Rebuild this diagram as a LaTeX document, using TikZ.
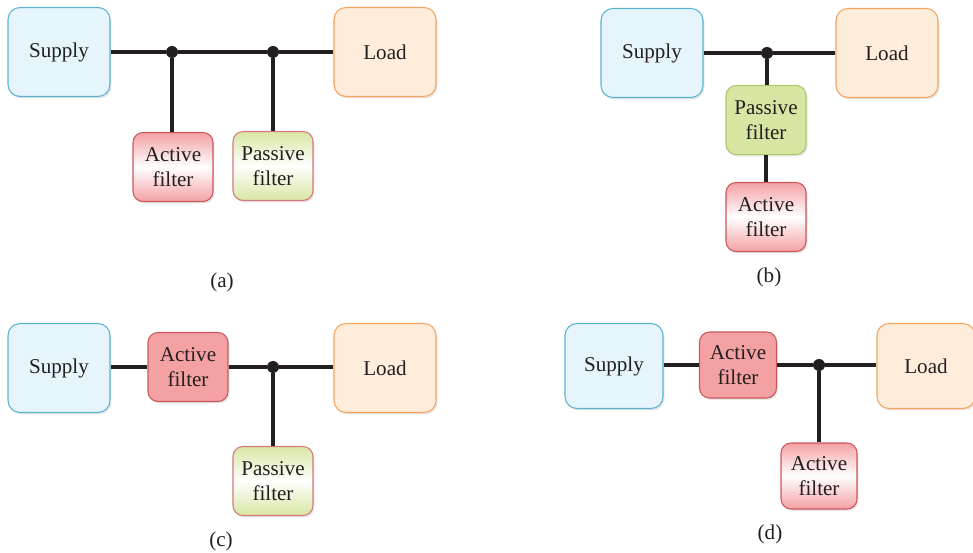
\documentclass[tikz,border=0pt]{standalone}
\usepackage{fontspec}
\setmainfont{Liberation Serif}
\usepackage{tikz}
\usetikzlibrary{shadows}

\definecolor{supfill}{HTML}{E6F5FC}
\definecolor{supline}{HTML}{5AB4CF}
\definecolor{loadfill}{HTML}{FFEDDC}
\definecolor{loadline}{HTML}{F6A35E}
\definecolor{actfill}{HTML}{F4A1A4}
\definecolor{actline}{HTML}{C9575B}
\definecolor{pasfill}{HTML}{D8E6A3}
\definecolor{pasline}{HTML}{A9CB6B}
\definecolor{txt}{HTML}{231F20}

\tikzset{
  box/.style={draw,line width=0.6pt,rounded corners=0.24cm,align=center,text=txt,
    font=\fontsize{12}{14}\selectfont,
    drop shadow={opacity=0.2,shadow xshift=0.03cm,shadow yshift=-0.04cm}},
  big/.style={minimum width=2.04cm,minimum height=1.78cm},
  small/.style={minimum width=1.6cm,minimum height=1.38cm,rounded corners=0.2cm},
  supbox/.style={box,big,fill=supfill,draw=supline},
  loadbox/.style={box,big,fill=loadfill,draw=loadline},
  actsolid/.style={box,small,fill=actfill,draw=actline},
  actgrad/.style={box,small,draw=actline,top color=actfill,bottom color=actfill,middle color=white},
  passolid/.style={box,small,fill=pasfill,draw=pasline},
  pasgrad/.style={box,small,draw=actline!80,top color=pasfill,bottom color=pasfill,middle color=white},
  bus/.style={line width=2.3pt,draw=txt},
  dot/.style={circle,fill=txt,inner sep=0pt,minimum size=0.24cm},
  caption/.style={text=txt,font=\fontsize{12}{14}\selectfont}
}

\begin{document}
\begin{tikzpicture}[x=0.02cm,y=-0.02cm]

\useasboundingbox (0,0) rectangle (973,553);

% Panel (a)
\node[supbox] (supA) at (59,52) {Supply};
\node[loadbox] (loadA) at (385,52) {Load};
\node[dot] (dA1) at (172,52) {};
\node[dot] (dA2) at (273,52) {};
\node[actgrad] (actA) at (173,167) {Active\\filter};
\node[pasgrad] (pasA) at (273,166) {Passive\\filter};
\draw[bus] (supA) -- (dA1) -- (dA2) -- (loadA);
\draw[bus] (dA1) -- (dA1 |- actA.north);
\draw[bus] (dA2) -- (dA2 |- pasA.north);
\node[caption] (capA) at (222,282) {(a)};

% Panel (b)
\node[supbox] (supB) at (652,53) {Supply};
\node[loadbox] (loadB) at (887,53) {Load};
\node[dot] (dB) at (767,53) {};
\node[passolid] (pasB) at (766,120) {Passive\\filter};
\node[actgrad] (actB) at (766,217) {Active\\filter};
\draw[bus] (supB) -- (dB) -- (loadB);
\draw[bus] (dB) -- (dB |- pasB.north);
\draw[bus] (pasB) -- (actB);
\node[caption] (capB) at (769,277) {(b)};

% Panel (c)
\node[supbox] (supC) at (59,368) {Supply};
\node[actsolid] (actC) at (188,367) {Active\\filter};
\node[loadbox] (loadC) at (385,368) {Load};
\node[dot] (dC) at (273,367) {};
\node[pasgrad] (pasC) at (273,481) {Passive\\filter};
\draw[bus] (supC.east |- actC) -- (actC);
\draw[bus] (actC) -- (dC) -- (loadC.west |- dC);
\draw[bus] (dC) -- (dC |- pasC.north);
\node[caption] (capC) at (221,541) {(c)};

% Panel (d)
\node[supbox,minimum width=1.96cm,minimum height=1.7cm] (supD) at (614,366) {Supply};
\node[actsolid,minimum width=1.54cm,minimum height=1.32cm] (actD) at (738,365) {Active\\filter};
\node[loadbox,minimum width=1.96cm,minimum height=1.7cm] (loadD) at (926,366) {Load};
\node[dot] (dD) at (819,365) {};
\node[actgrad,minimum width=1.52cm,minimum height=1.32cm] (actD2) at (819,476) {Active\\filter};
\draw[bus] (supD.east |- actD) -- (actD);
\draw[bus] (actD) -- (dD) -- (loadD.west |- dD);
\draw[bus] (dD) -- (dD |- actD2.north);
\node[caption] (capD) at (770,534) {(d)};

\end{tikzpicture}
\end{document}
